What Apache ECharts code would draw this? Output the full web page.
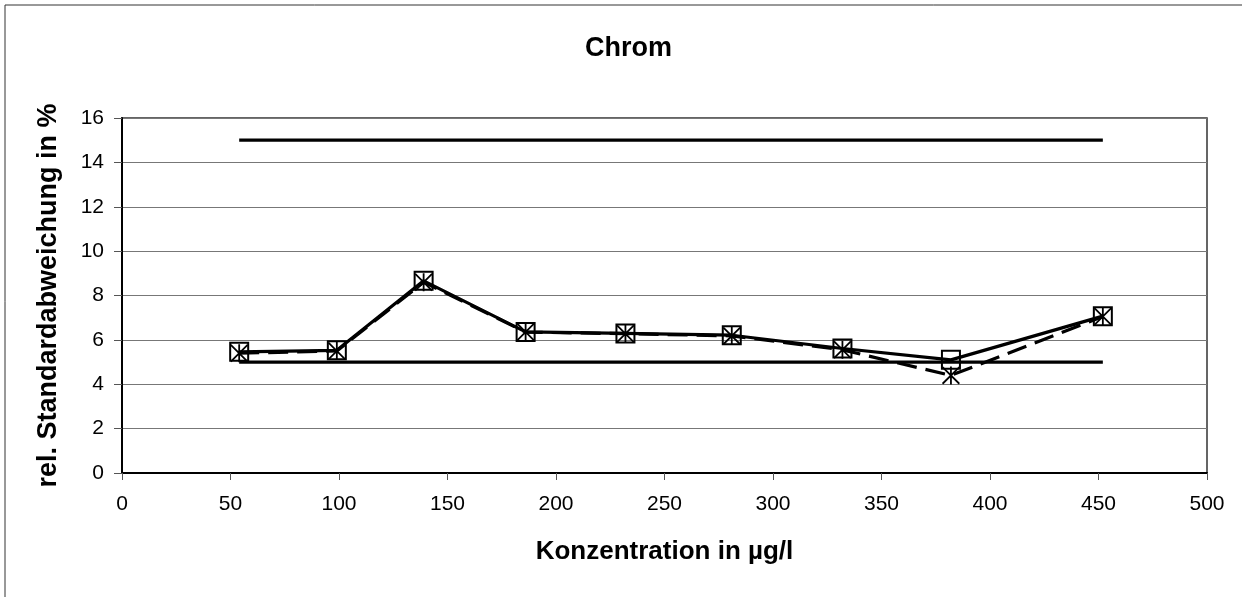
<!DOCTYPE html>
<html>
<head>
<meta charset="utf-8">
<script src="https://cdn.jsdelivr.net/npm/echarts@6/dist/echarts.min.js"></script>
<style>
  html, body { margin: 0; padding: 0; background: #fff; }
  #chart { width: 1242px; height: 597px; }
</style>
</head>
<body>
<div id="chart"></div>
<script>
const konzentration = [54, 99, 139, 186, 232, 281, 332, 382, 452];
const rsdSolid = [5.46, 5.53, 8.66, 6.36, 6.29, 6.21, 5.61, 5.1, 7.07];
const rsdDashed = [5.4, 5.5, 8.6, 6.35, 6.28, 6.18, 5.55, 4.4, 7.05];
const grenzeX = [54, 452];
const grenzeOben = [15, 15];
const grenzeUnten = [5, 5];

const font = '"Liberation Sans", Arial, sans-serif';
const starPath = 'path://M9,0 L11,0 L11,20 L9,20 Z M0,1.4 L1.4,0 L20,18.6 L18.6,20 Z M18.6,0 L20,1.4 L1.4,20 L0,18.6 Z';

const pairs = (xs, ys) => xs.map((x, i) => [x, ys[i]]);

const chart = echarts.init(document.getElementById('chart'));
chart.setOption({
  animation: false,
  backgroundColor: '#fff',
  title: {
    text: 'Chrom',
    left: 580,
    top: 30,
    textStyle: { fontFamily: font, fontSize: 27, fontWeight: 'bold', color: '#000' }
  },
  graphic: [{
    type: 'rect',
    shape: { x: 5, y: 5, width: 1400, height: 800 },
    style: { fill: 'none', stroke: '#333', lineWidth: 1 },
    silent: true
  }],
  grid: {
    left: 122, right: 35, top: 118, bottom: 124,
    show: true, borderColor: '#333', borderWidth: 1.5
  },
  xAxis: {
    type: 'value',
    min: 0, max: 500, interval: 50,
    name: 'Konzentration in µg/l',
    nameLocation: 'middle',
    nameGap: 66,
    nameTextStyle: { fontFamily: font, fontSize: 26, fontWeight: 'bold', color: '#000' },
    axisLine: { show: true, lineStyle: { color: '#000', width: 2 } },
    axisTick: { show: true, length: 7, lineStyle: { color: '#555' } },
    axisLabel: { fontFamily: font, fontSize: 21, color: '#000', margin: 21 },
    splitLine: { show: false }
  },
  yAxis: {
    type: 'value',
    min: 0, max: 16, interval: 2,
    name: 'rel. Standardabweichung in %',
    nameLocation: 'middle',
    nameGap: 60,
    nameTextStyle: { fontFamily: font, fontSize: 27, fontWeight: 'bold', color: '#000' },
    axisLine: { show: true, lineStyle: { color: '#000', width: 2 } },
    axisTick: { show: true, length: 8, lineStyle: { color: '#555' } },
    axisLabel: { fontFamily: font, fontSize: 21, color: '#000', margin: 18 },
    splitLine: { show: true, lineStyle: { color: '#777', width: 1.2 } }
  },
  series: [
    {
      type: 'line',
      data: pairs(grenzeX, grenzeOben),
      symbol: 'none',
      lineStyle: { color: '#000', width: 3.2 },
      z: 2
    },
    {
      type: 'line',
      data: pairs(grenzeX, grenzeUnten),
      symbol: 'none',
      lineStyle: { color: '#000', width: 3.2 },
      z: 2
    },
    {
      type: 'line',
      data: pairs(konzentration, rsdDashed),
      symbol: starPath,
      symbolSize: 18,
      itemStyle: { color: '#000' },
      lineStyle: { color: '#000', width: 3.2, type: [20, 9] },
      z: 3
    },
    {
      type: 'line',
      data: pairs(konzentration, rsdSolid),
      symbol: 'rect',
      symbolSize: 18,
      itemStyle: { color: 'rgba(0,0,0,0)', borderColor: '#000', borderWidth: 2 },
      lineStyle: { color: '#000', width: 3.2 },
      z: 4
    }
  ]
});
</script>
</body>
</html>
